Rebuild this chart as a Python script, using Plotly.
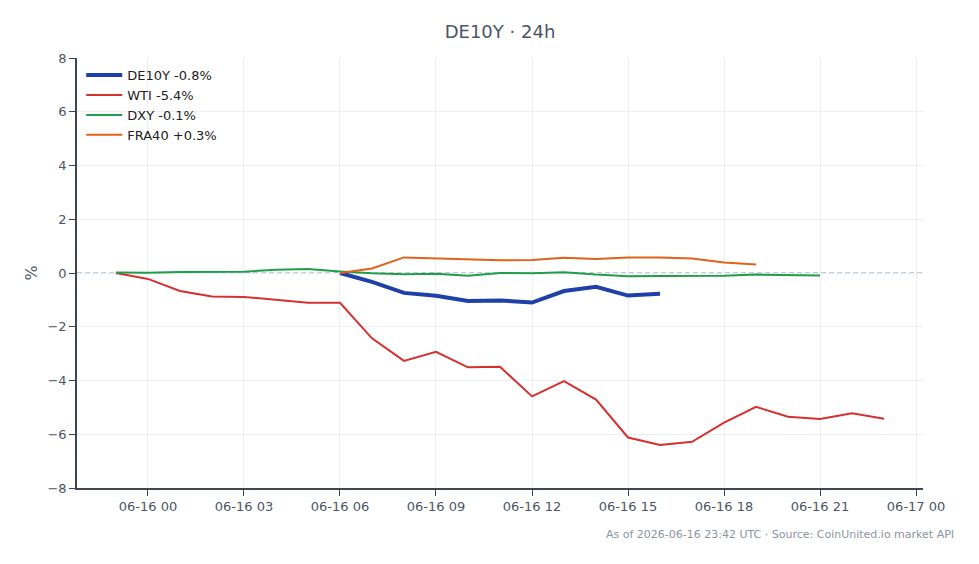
import plotly.graph_objects as go
import pandas as pd

hours = pd.date_range("2026-06-15 23:00", "2026-06-16 23:00", freq="h")

wti = [0.0, -0.22, -0.67, -0.87, -0.89, -1.0, -1.11, -1.11, -2.43, -3.27, -2.93, -3.51,
       -3.49, -4.59, -4.02, -4.71, -6.12, -6.40, -6.28, -5.57, -4.98, -5.35, -5.43, -5.22, -5.42]
dxy = [0.02, 0.01, 0.04, 0.04, 0.05, 0.12, 0.15, 0.06, -0.01, -0.05, -0.03, -0.1,
       0.0, -0.01, 0.03, -0.06, -0.12, -0.11, -0.1, -0.1, -0.06, -0.08, -0.09]
de10y = [0.0, -0.33, -0.74, -0.85, -1.04, -1.02, -1.1, -0.67, -0.51, -0.84, -0.77]
fra40 = [0.0, 0.17, 0.58, 0.55, 0.52, 0.47, 0.48, 0.57, 0.52, 0.58, 0.58, 0.54, 0.39, 0.32]

x_de = hours[7:7 + len(de10y)]
x_fra = hours[7:7 + len(fra40)]
x_dxy = hours[:len(dxy)]

font = "DejaVu Sans"
txt = "#4a5568"

fig = go.Figure()
fig.add_trace(go.Scatter(x=x_de, y=de10y, mode="lines", name="DE10Y -0.8%",
                         line=dict(color="#1e40a8", width=4)))
fig.add_trace(go.Scatter(x=hours, y=wti, mode="lines", name="WTI -5.4%",
                         line=dict(color="#d62f2f", width=2)))
fig.add_trace(go.Scatter(x=x_dxy, y=dxy, mode="lines", name="DXY -0.1%",
                         line=dict(color="#1f9e4a", width=2)))
fig.add_trace(go.Scatter(x=x_fra, y=fra40, mode="lines", name="FRA40 +0.3%",
                         line=dict(color="#e0621a", width=2)))

fig.add_shape(type="line", xref="paper", x0=0, x1=1, yref="y", y0=0, y1=0,
              line=dict(color="#8596b0", width=1, dash="5px,3px"), layer="between")

fig.update_layout(
    width=979, height=564,
    margin=dict(l=77, r=56, t=58, b=76),
    paper_bgcolor="white", plot_bgcolor="white",
    font=dict(family=font, size=13, color=txt),
    title=dict(text="DE10Y · 24h", x=0.5, xref="paper", xanchor="center",
               y=0.943, yanchor="middle",
               font=dict(family=font, size=18, color=txt)),
    showlegend=True,
    legend=dict(x=0.005, y=0.995, xanchor="left", yanchor="top", itemwidth=36,
                bgcolor="rgba(255,255,255,0)", font=dict(size=13, color="#222"),
                tracegroupgap=0),
    xaxis=dict(range=["2026-06-15 21:47", "2026-06-17 00:13"],
               tickvals=pd.date_range("2026-06-16 00:00", "2026-06-17 00:00", freq="3h"),
               tickformat="%m-%d %H", showgrid=True, gridcolor="#ebeef3",
               showline=True, linecolor="#3d4656", linewidth=1.5,
               ticks="outside", ticklen=6, tickcolor="#3d4656",
               zeroline=False),
    yaxis=dict(range=[-8, 8], dtick=2, tick0=0, showgrid=True, gridcolor="#ebeef3",
               showline=True, linecolor="#3d4656", linewidth=1.5,
               ticks="outside", ticklen=6, tickcolor="#3d4656",
               zeroline=False, title=dict(text="%", standoff=6)),
)

fig.add_annotation(text="As of 2026-06-16 23:42 UTC · Source: CoinUnited.io market API",
                   xref="paper", yref="paper", x=1.039, y=-0.107,
                   xanchor="right", yanchor="middle", showarrow=False,
                   font=dict(family=font, size=11, color="#8a94a6"))

fig.write_html("out.html")
